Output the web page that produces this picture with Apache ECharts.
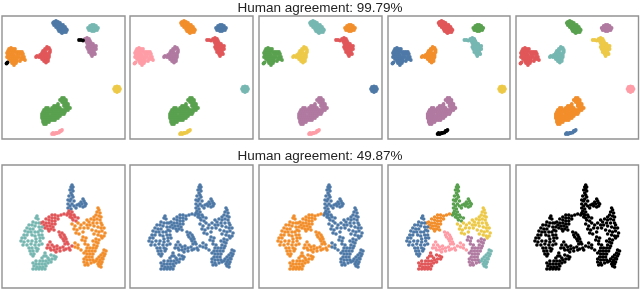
<!DOCTYPE html>
<html><head><meta charset="utf-8">
<script src="https://cdn.jsdelivr.net/npm/echarts@6/dist/echarts.min.js"></script>
<style>html,body{margin:0;padding:0;background:#fff}#c{width:640px;height:290px}</style>
</head><body><div id="c"></div>
<script>
const titles = ["Human agreement: 99.79%", "Human agreement: 49.87%"];

// top row clusters (panel units, y downward)
const c0 = [[52,6],[54,5],[56,6],[58,7],[51,7],[53,8],[55,8],[57,9],[59,9],[61,9],[52,9],[54,11],[55,10],[57,11],[59,11],[61,11],[63,11],[56,13],[58,13],[60,13],[62,13],[64,13],[65,14],[57,15],[59,15],[61,15],[63,15],[59,16],[62,16],[60,17],[64,16]];
const c1 = [[86,12],[88,10],[90,9],[92,9],[94,10],[88,12],[90,12],[92,12],[94,12],[96,12],[87,14],[89,14],[91,14],[93,14],[95,14],[90,15],[92,15]];
const c2 = [[83,23],[85,22],[87,23],[84,25],[86,25],[88,25],[85,27],[87,27],[89,27],[91,28],[86,29],[88,29],[90,29],[92,30],[94,30],[85,31],[87,31],[89,31],[91,31],[93,32],[86,33],[88,33],[90,33],[92,34],[94,33],[87,36],[88,35],[90,36],[92,36],[93,38],[89,38],[91,38],[90,40]];
const c3 = [[45,31],[47,32],[43,33],[45,33],[48,34],[41,35],[43,35],[48,36],[40,37],[42,37],[44,37],[47,37],[38,39],[40,39],[42,39],[45,39],[47,39],[35,40],[37,41],[39,41],[41,41],[43,41],[45,41],[47,41],[34,41],[40,43],[42,43],[44,43],[46,43],[42,45],[44,45],[46,45],[44,46.5]];
const c4 = [[7,33],[9,32],[11,33],[13,33],[6,35],[8,35],[10,35],[12,35],[14,36],[5,37],[7,37],[9,37],[11,37],[16,36],[18,36],[20,36],[6,39],[8,39],[10,39],[12,39],[15,38],[17,38],[19,38],[21,38],[5,41],[7,41],[9,41],[11,41],[13,41],[15,41],[17,41],[20,41],[22,41],[7,43],[9,43],[11,43],[13,43],[15,43],[19,43],[21,43],[9,45],[11,45],[13,45],[15,45],[23,44],[18,45],[10,47],[12,47],[14,47],[12,49]];
const c5 = [[113,71],[115,70.5],[117,71],[112,73],[114,73],[116,73],[118,73],[113,75],[115,75],[117,75],[115,76]];
const c6 = [[60,82],[62,82],[58,84],[60,84],[62,84],[64,84],[60,86],[62,86],[64,86],[56,88],[62,88],[64,88],[66,88],[52,90],[54,90],[56,90],[62,90],[64,90],[66,90],[44,92],[46,92],[50,92],[52,92],[54,92],[56,92],[58,92],[64,92],[66,92],[68,92],[42,94],[44,94],[46,94],[48,94],[50,94],[52,94],[54,94],[56,94],[58,94],[60,94],[62,94],[64,94],[66,94],[41,96],[43,96],[45,96],[47,96],[49,96],[51,96],[53,96],[55,96],[57,96],[59,96],[61,96],[63,96],[40,98],[42,98],[44,98],[46,98],[50,98],[52,98],[54,98],[56,98],[58,98],[60,98],[62,98],[40,100],[42,100],[44,100],[46,100],[48,100],[50,100],[52,100],[54,100],[56,100],[58,100],[40,102],[42,102],[44,102],[46,102],[48,102],[50,102],[52,102],[54,102],[56,102],[41,104],[43,104],[45,104],[47,104],[49,104],[51,104],[53,104],[41,106],[43,106],[45,106],[47,106],[42,108],[44,108]];
const c7 = [[50,118],[52,118],[51,117],[53,117.5],[54,117],[55,117],[57,116.5],[58,115],[59,115],[60,114]];
const c8 = [[77,24],[79,24],[81,24.5]];
const c9 = [[4.5,47.5],[5.5,46.5]];

// bottom row groups
const s0a = [[70,20],[69,22],[71,22],[70,24],[68,25],[71,26],[69,28],[70,30],[67,31],[71,32],[69,34],[66,35],[68,36],[72,36],[81,34],[82,36],[79,37],[83,38],[77,39],[80,39],[84,39],[75,40],[78,41],[81,42],[72,41],[70,39],[66,39],[68,41],[74,43],[83,41],[66,43],[69,44]];
const s0b = [[67,46],[66,48],[68,49],[70,47],[65,50],[72,50],[69,50],[68,52],[70,53],[73,52],[76,53],[71,55],[74,56]];
const s1 = [[62,49],[59,50],[56,51],[50,50],[53,50],[47,52],[50,53],[53,53],[56,54],[44,54],[47,55],[50,56],[53,56],[41,57],[39,58],[44,58],[47,58],[50,59],[53,59],[42,60],[45,61],[48,61],[51,62],[43,63],[46,64],[49,64],[52,65],[47,66]];
const s2 = [[96,43],[97,45],[95,47],[98,48],[94,50],[97,51],[92,52],[99,52],[89,54],[92,55],[95,54],[98,55],[85,55],[87,57],[91,58],[95,58],[99,58],[100,60],[70,59],[73,61],[76,58],[79,60],[82,58],[85,60],[88,60],[72,64],[75,65],[78,63],[82,63],[86,63],[92,61],[96,62],[99,63],[102,63],[74,68],[77,69],[81,67],[90,65],[94,66],[97,67],[100,66],[103,68],[96,70],[99,71],[102,71],[92,69],[100,73]];
const s3 = [[35,51],[34,53],[36,54],[31,57],[34,58],[37,58],[27,60],[30,60],[33,61],[37,62],[40,62],[25,63],[28,64],[31,64],[38,65],[23,66],[26,67],[29,67],[33,67],[36,67],[40,66],[22,70],[25,70],[30,70],[33,71],[37,70],[40,70],[20,73],[23,73],[34,74],[38,73],[41,73],[19,76],[22,77],[26,76],[30,76],[34,77],[38,76],[21,80],[25,80],[29,79],[33,80],[37,80],[40,79],[27,83],[30,83],[34,83],[36,84],[28,86],[31,86],[35,86],[29,89],[32,89],[31,91]];
const s4a = [[57,67],[60,68],[58,70],[62,70],[59,72],[63,72],[61,74],[64,74],[62,76],[65,77],[63,79],[66,79],[48,77],[46,80],[50,80],[45,83],[48,83],[52,82],[55,81],[49,85],[52,85],[55,84],[58,83],[61,82],[54,87],[58,86],[62,85],[64,84],[67,83],[70,81],[68,85]];
const s4b = [[73,78],[76,80],[73,82],[76,83],[79,85]];
const s5 = [[81,72],[84,73],[80,75],[83,76],[94,74],[97,75],[91,76],[94,77],[83,79],[86,80],[96,78],[92,80],[95,81],[85,83],[88,83],[91,83],[94,83],[84,86],[87,86],[90,86],[93,86],[82,88],[85,89],[88,89],[91,89],[84,92],[87,92],[90,92],[82,94],[85,95],[88,95],[91,95],[82,97],[85,98],[89,98],[92,97],[83,100],[86,100]];
const s6 = [[43,88],[42,91],[44,91],[40,93],[46,93],[49,90],[52,91],[54,92],[38,96],[41,96],[44,96],[47,95],[50,94],[53,94],[34,96],[37,99],[31,98],[34,99],[40,99],[43,99],[46,98],[49,97],[32,101],[35,102],[38,102],[41,102],[44,101],[31,104],[34,104],[37,104],[40,104],[43,104]];
const s7 = [[102,85],[104,86],[101,88],[103,89],[99,90],[102,91],[97,92],[100,93],[95,94],[98,95],[101,94],[94,96],[97,97],[100,97],[96,99],[99,99],[97,101],[99,102]];

const topClusters = [c0, c1, c2, c3, c4, c5, c6, c7, c8, c9];
const bottomGroups = [s0a, s0b, s1, s2, s3, s4a, s4b, s5, s6, s7];

// labels per panel, one entry per cluster / group
const B='#4e79a7',O='#f28e2b',R='#e15759',T='#76b7b2',G='#59a14f',Y='#edc948',P='#b07aa1',K='#ff9da7',N='#000000';
const topLabels = [
  [B,T,P,R,O,Y,G,K,N,N],
  [O,B,R,P,K,T,G,Y,R,K],
  [T,O,R,Y,G,B,P,K,R,G],
  [R,G,T,O,B,Y,P,N,T,B],
  [G,P,Y,T,R,K,O,B,Y,R]
];
const bottomLabels = [
  [B,R,R,O,T,R,O,O,T,O],
  [B,B,B,B,B,B,B,B,B,B],
  [B,B,O,B,O,O,B,B,O,B],
  [G,G,O,Y,B,K,K,P,R,T],
  [N,N,N,N,N,N,N,N,N,N]
];

const panelLeft = [2, 130, 259, 388, 516];
const panelW = [123, 123, 123, 122, 122.5];
const rowTop = [16, 165];
const rowH = 123;

const grid = [], xAxis = [], yAxis = [], series = [];
function addPanel(left, w, top, sets, colors, size) {
  const i = grid.length;
  grid.push({left, top, width: w, height: rowH, show: true, borderColor: '#929292', borderWidth: 1.4, backgroundColor: '#fff'});
  const ax = {gridIndex: i, type: 'value', min: 0, max: 123, show: false, splitLine: {show: false}};
  xAxis.push({...ax});
  yAxis.push({...ax, inverse: true});
  sets.forEach((pts, k) => series.push({
    type: 'scatter', xAxisIndex: i, yAxisIndex: i, data: pts, symbolSize: size,
    itemStyle: {color: colors[k], opacity: 1}, silent: true, animation: false
  }));
}
panelLeft.forEach((l, p) => addPanel(l, panelW[p], rowTop[0], topClusters, topLabels[p], 3.8));
panelLeft.forEach((l, p) => addPanel(l, panelW[p], rowTop[1], bottomGroups, bottomLabels[p], 3.6));

const chart = echarts.init(document.getElementById('c'), null, {renderer: 'canvas'});
chart.setOption({
  animation: false,
  backgroundColor: '#fff',
  title: titles.map((t, i) => ({
    text: t, left: 'center', top: [-4, 144][i],
    textStyle: {fontFamily: 'Liberation Sans', fontSize: 13.5, fontWeight: 'normal', color: '#222'}
  })),
  grid, xAxis, yAxis, series
});
</script></body></html>
